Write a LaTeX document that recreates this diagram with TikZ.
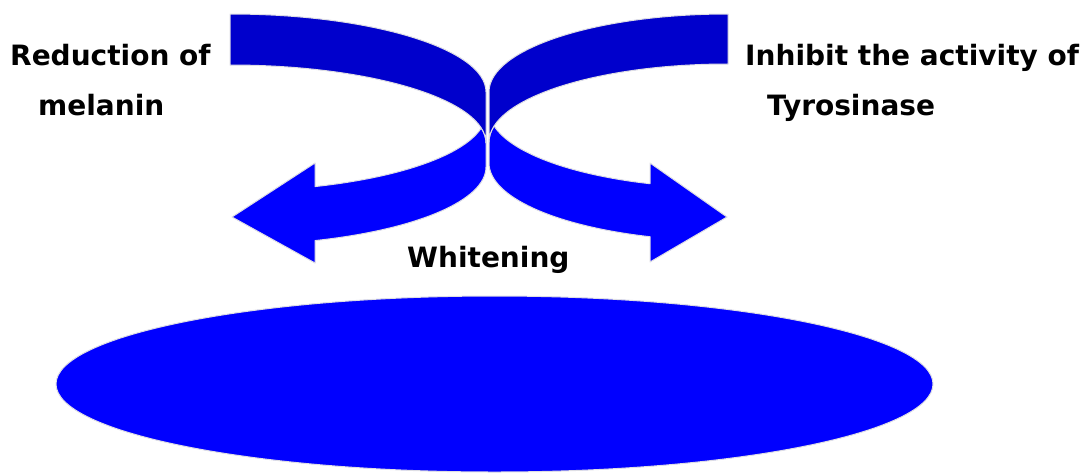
\documentclass[tikz,border=0pt]{standalone}
\usepackage{fontspec}
\setmainfont{DejaVu Sans}
\usetikzlibrary{calc}
\definecolor{backblue}{RGB}{0,0,204}
\definecolor{frontblue}{RGB}{0,0,255}
\definecolor{edgegray}{RGB}{222,222,228}
\tikzset{BACK/.style={fill=backblue,draw=edgegray,line width=1pt,line join=round}}
\tikzset{FRONT/.style={fill=frontblue,draw=edgegray,line width=1pt,line join=round}}
\tikzset{LABEL/.style={inner sep=0pt,anchor=base west,font=\fontsize{28}{34}\selectfont\bfseries}}

\begin{document}
\begin{tikzpicture}[x=1pt,y=1pt]
\useasboundingbox (0,0) rectangle (1083,-472);

% left arrow: ellipse centres of back and front edges
\coordinate (c_l_e1) at (230,-92);
\coordinate (c_l_e2) at (230,-143);
\coordinate (c_l_f1) at (230,-113);
\coordinate (c_l_f2) at (230,-167);
\draw[FRONT] ($(c_l_f2)+(256,0)$) arc[start angle=0,end angle=-70.6,x radius=256,y radius=78]
  -- (315,-263) -- (232,-217) -- (315,-163) -- ($(c_l_f1)+(-70.6:256 and 78)$)
  arc[start angle=-70.6,end angle=-11.09,x radius=256,y radius=78]
  arc[start angle=11.09,end angle=0,x radius=256,y radius=78] -- cycle;
\draw[BACK] ($(c_l_e1)+(0,78)$) arc[start angle=90,end angle=0,x radius=256,y radius=78]
  -- ($(c_l_e2)+(256,0)$) arc[start angle=0,end angle=90,x radius=256,y radius=78] -- cycle;

% right arrow
\coordinate (c_r_e1) at (728,-92);
\coordinate (c_r_e2) at (728,-142);
\coordinate (c_r_f1) at (728,-110);
\coordinate (c_r_f2) at (728,-163);
\draw[FRONT] ($(c_r_f2)+(-239,0)$) arc[start angle=180,end angle=250.95,x radius=239,y radius=78]
  -- (650,-262) -- (727,-217) -- (650,-163) -- ($(c_r_f1)+(250.95:239 and 78)$)
  arc[start angle=250.95,end angle=191.84,x radius=239,y radius=78]
  arc[start angle=168.16,end angle=180,x radius=239,y radius=78] -- cycle;
\draw[BACK] ($(c_r_e1)+(0,78)$) arc[start angle=90,end angle=180,x radius=239,y radius=78]
  -- ($(c_r_e2)+(-239,0)$) arc[start angle=180,end angle=90,x radius=239,y radius=78] -- cycle;

% base
\draw[FRONT] (494.5,-384) ellipse[x radius=438.5,y radius=88];

\node[LABEL] (n_reduction) at (10,-65) {Reduction of};
\node[LABEL] (n_melanin) at (38,-115) {melanin};
\node[LABEL] (n_inhibit) at (745,-65) {Inhibit the activity of};
\node[LABEL] (n_tyrosinase) at (767,-115) {Tyrosinase};
\node[LABEL] (n_whitening) at (407,-267) {Whitening};

\end{tikzpicture}
\end{document}
